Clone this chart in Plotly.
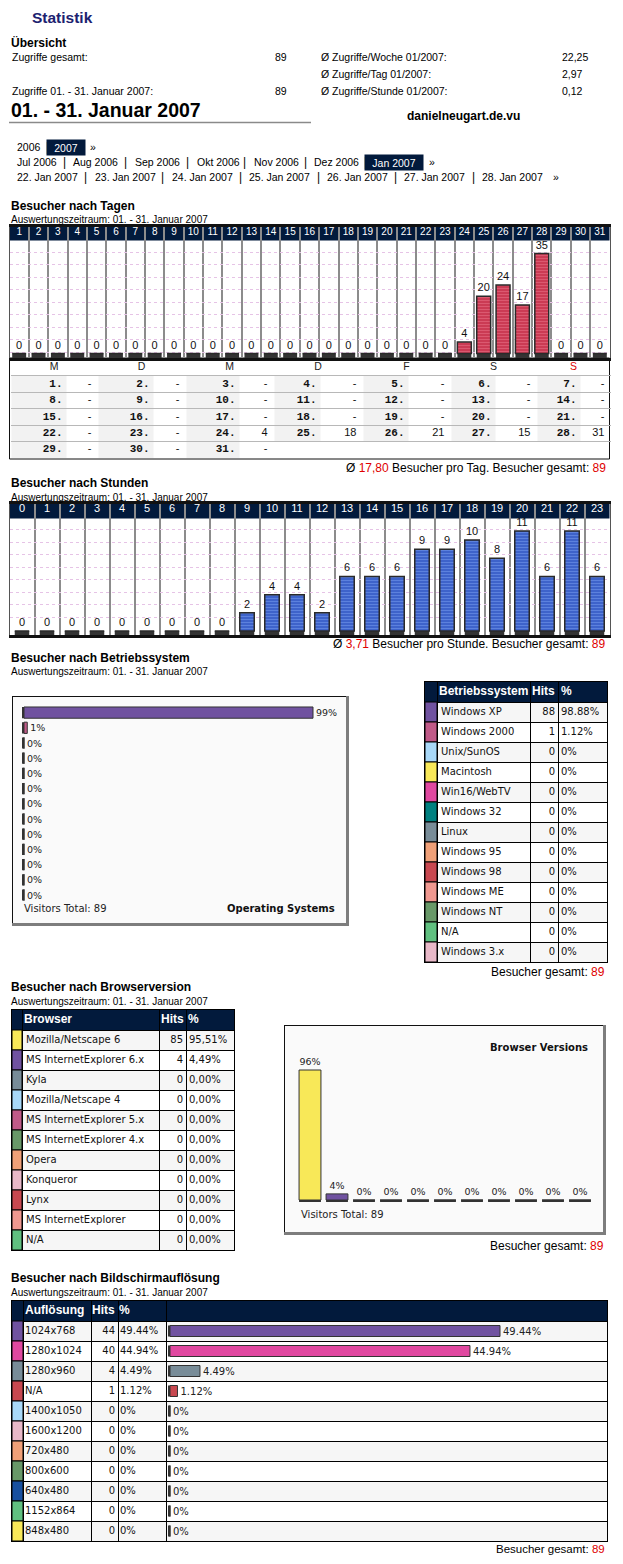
import plotly.graph_objects as go

# ---------- page geometry (the page body keeps its default 8px margin) ----------
OFF = 8
PAGE_W, PAGE_H = 623, 1564
FW, FH = PAGE_W - 2 * OFF, PAGE_H - 2 * OFF


def px(x):
    return (x - OFF) / FW


def py(y):
    return 1 - (y - OFF) / FH


NAVY = '#021a3c'
HILITE = '#e00000'
SANS = 'Liberation Sans, Arial, sans-serif'
VER = 'DejaVu Sans, Verdana, sans-serif'
MONO = 'Liberation Mono, Courier New, monospace'

# ---------------- data ----------------
site_name = 'danielneugart.de.vu'
period_label = '01. - 31. Januar 2007'
period_subtitle = 'Auswertungszeitraum: 01. - 31. Januar 2007'

overview_left_labels = ['Zugriffe gesamt:', 'Zugriffe 01. - 31. Januar 2007:']
overview_left_values = ['89', '89']
overview_right_labels = ['Ø Zugriffe/Woche 01/2007:', 'Ø Zugriffe/Tag 01/2007:', 'Ø Zugriffe/Stunde 01/2007:']
overview_right_values = ['22,25', '2,97', '0,12']

nav_years = ['2006', '2007']
nav_months = ['Jul 2006', 'Aug 2006', 'Sep 2006', 'Okt 2006', 'Nov 2006', 'Dez 2006', 'Jan 2007']
nav_days = ['22. Jan 2007', '23. Jan 2007', '24. Jan 2007', '25. Jan 2007',
            '26. Jan 2007', '27. Jan 2007', '28. Jan 2007']

days = [1, 2, 3, 4, 5, 6, 7, 8, 9, 10, 11, 12, 13, 14, 15, 16, 17, 18, 19, 20,
        21, 22, 23, 24, 25, 26, 27, 28, 29, 30, 31]
visitors_per_day = [0, 0, 0, 0, 0, 0, 0, 0, 0, 0, 0, 0, 0, 0, 0, 0, 0, 0, 0, 0,
                    0, 0, 0, 4, 20, 24, 17, 35, 0, 0, 0]
weekday_letters = ['M', 'D', 'M', 'D', 'F', 'S', 'S']
calendar_values = [None, None, None, None, None, None, None, None, None, None,
                   None, None, None, None, None, None, None, None, None, None,
                   None, None, None, 4, 18, 21, 15, 31, None, None, None]
day_average = '17,80'
total_visitors = '89'

hours = [0, 1, 2, 3, 4, 5, 6, 7, 8, 9, 10, 11, 12, 13, 14, 15, 16, 17, 18, 19, 20, 21, 22, 23]
visitors_per_hour = [0, 0, 0, 0, 0, 0, 0, 0, 0, 2, 4, 4, 2, 6, 6, 6, 9, 9, 10, 8, 11, 6, 11, 6]
hour_average = '3,71'

os_names = ['Windows XP', 'Windows 2000', 'Unix/SunOS', 'Macintosh', 'Win16/WebTV', 'Windows 32',
            'Linux', 'Windows 95', 'Windows 98', 'Windows ME', 'Windows NT', 'N/A', 'Windows 3.x']
os_hits = [88, 1, 0, 0, 0, 0, 0, 0, 0, 0, 0, 0, 0]
os_pct = [98.88, 1.12, 0, 0, 0, 0, 0, 0, 0, 0, 0, 0, 0]
os_colors = ['#7052a0', '#c05a88', '#a8d8f8', '#f8e858', '#e048a0', '#008080', '#788c98',
             '#f0a078', '#c84850', '#f09890', '#689868', '#60c080', '#e8b8c8']

browser_names = ['Mozilla/Netscape 6', 'MS InternetExplorer 6.x', 'Kyla', 'Mozilla/Netscape 4',
                 'MS InternetExplorer 5.x', 'MS InternetExplorer 4.x', 'Opera', 'Konqueror',
                 'Lynx', 'MS InternetExplorer', 'N/A']
browser_hits = [85, 4, 0, 0, 0, 0, 0, 0, 0, 0, 0]
browser_pct = [95.51, 4.49, 0, 0, 0, 0, 0, 0, 0, 0, 0]
browser_colors = ['#f8e858', '#7052a0', '#788c98', '#a8d8f8', '#c05a88', '#689868',
                  '#f0a078', '#e8b8c8', '#c84850', '#f09890', '#60c080']

res_names = ['1024x768', '1280x1024', '1280x960', 'N/A', '1400x1050', '1600x1200',
             '720x480', '800x600', '640x480', '1152x864', '848x480']
res_hits = [44, 40, 4, 1, 0, 0, 0, 0, 0, 0, 0]
res_pct = [49.44, 44.94, 4.49, 1.12, 0, 0, 0, 0, 0, 0, 0]
res_colors = ['#7052a0', '#e048a0', '#788c98', '#c84850', '#a8d8f8', '#e8b8c8',
              '#f0a078', '#689868', '#1850a0', '#60c080', '#f8e858']

# ---------------- helpers ----------------
fig = go.Figure()
ann = []
shapes = []
layout_axes = {}


def text(x, y, s, size=10.5, family=SANS, color='#000', anchor='left', bold=False, **kw):
    if bold:
        s = '<b>' + s + '</b>'
    ann.append(dict(x=px(x), y=py(y), xref='paper', yref='paper', text=s, showarrow=False,
                    xanchor=anchor, yanchor='middle', borderpad=1,
                    font=dict(size=size, family=family, color=color), **kw))


def rect(x0, y0, x1, y1, fill=None, line=None, lw=0, layer='below'):
    shapes.append(dict(type='rect', xref='paper', yref='paper', x0=px(x0), x1=px(x1),
                       y0=py(y0), y1=py(y1), fillcolor=fill or 'rgba(0,0,0,0)',
                       line=dict(color=line or 'rgba(0,0,0,0)', width=lw), layer=layer))


def seg(x0, y0, x1, y1, color, lw, layer='below'):
    shapes.append(dict(type='line', xref='paper', yref='paper', x0=px(x0), x1=px(x1),
                       y0=py(y0), y1=py(y1), line=dict(color=color, width=lw), layer=layer))


def red(s):
    return '<span style="color:%s">%s</span>' % (HILITE, s)


def section_title(y, title):
    text(9, y, title, size=12, bold=True)
    text(9, y + 14, period_subtitle, size=10)


def pct_de(p):
    return ('%.2f' % p).replace('.', ',') + '%'


def pct_en(p):
    return ('%.2f%%' % p) if p else '0%'


def axis(domain, rng, **kw):
    d = dict(domain=domain, range=rng, showgrid=False, zeroline=False, showticklabels=False,
             ticks='', showline=False, fixedrange=True)
    d.update(kw)
    return d


def stripes(vals, base_col, stripe_col):
    return dict(shape=['-' if v else '' for v in vals], fgcolor=stripe_col, bgcolor=base_col,
                size=3, solidity=0.4)


def alt_fill_shapes(xr, yr, n):
    for i in range(0, n, 2):
        shapes.append(dict(type='rect', xref=xr + ' domain', yref=yr, x0=0, x1=1, y0=i - 0.5, y1=i + 0.5,
                           fillcolor='#f6f6f6', line=dict(width=0), layer='below'))


axis_counter = [5]


def table_axes(x0, x1, y_top, row_h, n_rows, bounds, gridcolor='#000', vgrid=True, hvals=None,
               outline='#000'):
    axis_counter[0] += 1
    k = axis_counter[0]
    xr, yr = 'x%d' % k, 'y%d' % k
    layout_axes['xaxis%d' % k] = axis([px(x0), px(x1)], [0, x1 - x0], tickmode='array',
                                      tickvals=bounds if vgrid else [], showgrid=vgrid,
                                      gridcolor=gridcolor, gridwidth=1,
                                      showline=outline is not None, linecolor=outline or '#000',
                                      linewidth=1, mirror=True, anchor=yr)
    layout_axes['yaxis%d' % k] = axis([py(y_top + (n_rows + 1) * row_h), py(y_top)],
                                      [n_rows - 0.5, -1.5], tickmode='array',
                                      tickvals=hvals if hvals is not None else [i - 0.5 for i in range(n_rows)],
                                      showgrid=True, gridcolor=gridcolor, gridwidth=1,
                                      showline=outline is not None, linecolor=outline or '#000',
                                      linewidth=1, mirror=True, anchor=xr)
    return xr, yr


def text_col(xr, yr, x, ys, texts, pos, family=VER, size=10, color='#111'):
    fig.add_trace(go.Scatter(x=[x] * len(ys), y=ys, text=texts, mode='text', textposition=pos,
                             textfont=dict(family=family, size=size, color=color), cliponaxis=False,
                             hoverinfo='skip', xaxis=xr, yaxis=yr))


def data_table(x0, x1, y_top, names, hits, pct_txt, colors, bounds, head, head_x, name_x, hits_x, pct_x):
    n = len(names)
    xr, yr = table_axes(x0, x1, y_top, 20, n, bounds)
    alt_fill_shapes(xr, yr, n)
    shapes.append(dict(type='rect', xref=xr + ' domain', yref=yr, x0=0, x1=1, y0=-1.5, y1=-0.5,
                       fillcolor=NAVY, line=dict(width=0), layer='below'))
    rows = list(range(n))
    fig.add_trace(go.Bar(y=rows, x=[bounds[1]] * n, base=0, orientation='h', width=1,
                         marker=dict(color=colors, line=dict(color='#000', width=1)),
                         hoverinfo='skip', xaxis=xr, yaxis=yr))
    fig.add_trace(go.Scatter(x=head_x, y=[-1] * len(head), text=['<b>%s</b>' % h for h in head],
                             mode='text', textposition='middle right',
                             textfont=dict(family=SANS, size=12, color='white'), cliponaxis=False,
                             hoverinfo='skip', xaxis=xr, yaxis=yr))
    text_col(xr, yr, name_x, rows, names, 'middle right')
    text_col(xr, yr, hits_x, rows, [str(h) for h in hits], 'middle left')
    text_col(xr, yr, pct_x, rows, pct_txt, 'middle right')
    return xr, yr


# ---------------- header ----------------
text(30, 17.5, 'Statistik', size=15.5, bold=True, color='#1c2270')
text(9, 42, 'Übersicht', size=12, bold=True)
for lbl, val, yy in zip(overview_left_labels, overview_left_values, [57, 91]):
    text(10, yy, lbl)
    text(289, yy, val, anchor='right')
for lbl, val, yy in zip(overview_right_labels, overview_right_values, [57, 74, 91]):
    text(319, yy, lbl)
    text(560, yy, val)
text(9, 110, period_label, size=19.5, bold=True)
seg(9, 122.5, 311, 122.5, '#8a8a8a', 1.5)
text(405, 116, site_name, size=12, bold=True)

NAVF = 10.5
text(15, 147, nav_years[0], size=NAVF)
text(47, 147, '|', size=12, anchor='center')
text(66, 147, nav_years[1], size=NAVF, anchor='center', color='white', bgcolor=NAVY, width=36, height=13)
text(93, 147, '»', size=NAVF, anchor='center')

month_x = [15, 71, 133, 195, 252, 312]
month_pipes = [64, 125, 187, 244, 305, 365]
for m, xx in zip(nav_months[:-1], month_x):
    text(xx, 162, m, size=NAVF)
for xx in month_pipes:
    text(xx, 162, '|', size=12, anchor='center')
text(394, 162, nav_months[-1], size=NAVF, anchor='center', color='white', bgcolor=NAVY, width=56, height=13)
text(432, 162, '»', size=NAVF, anchor='center')

day_x = [15, 93, 170, 247, 325, 402, 480]
day_pipes = [85, 162, 240, 318, 395, 473]
for d, xx in zip(nav_days, day_x):
    text(xx, 177, d, size=NAVF)
for xx in day_pipes:
    text(xx, 177, '|', size=12, anchor='center')
text(556, 177, '»', size=NAVF, anchor='center')

# ---------------- Besucher nach Tagen ----------------
section_title(206, 'Besucher nach Tagen')
D_TOP, D_HEAD, D_BASE, D_BOT = 227, 240.5, 353.5, 358
d_scale = 100 / max(visitors_per_day)
d_stub = (D_BOT - D_BASE) / d_scale
d_grid = [((D_BASE - 352) + 12.5 * k) / d_scale for k in range(9)]
layout_axes['xaxis'] = axis([px(9.5), px(609.5)], [0.5, 31.5], side='top', showticklabels=True,
                            tickmode='array', tickvals=days, ticktext=[str(d) for d in days],
                            ticklabelposition='inside',
                            tickfont=dict(family=SANS, size=10, color='white'),
                            minor=dict(tick0=0.5, dtick=1, showgrid=True, gridcolor='#8c8c8c', gridwidth=2),
                            showline=True, linecolor='#111', linewidth=2.5, mirror=True, anchor='y')
layout_axes['yaxis'] = axis([py(D_BOT), py(D_TOP)], [-d_stub, (D_BASE - D_TOP) / d_scale],
                            tickmode='array', tickvals=d_grid, showgrid=True, gridcolor='#e6c3e6',
                            griddash='dot', gridwidth=1, showline=True, linecolor='#555',
                            linewidth=1, mirror=True, anchor='x')
shapes.append(dict(type='rect', xref='x domain', yref='paper', x0=0, x1=1, y0=py(D_HEAD), y1=py(D_TOP),
                   fillcolor=NAVY, line=dict(width=0), layer='below'))
fig.add_trace(go.Bar(x=days, y=[d_stub] * len(days), base=-d_stub, width=0.72,
                     marker=dict(color='#333333', line=dict(width=0)),
                     text=[str(v) if v == 0 else '' for v in visitors_per_day], textposition='outside',
                     textfont=dict(family=SANS, size=11, color='#111'), constraintext='none',
                     cliponaxis=False, hoverinfo='skip', xaxis='x', yaxis='y'))
fig.add_trace(go.Bar(x=days, y=visitors_per_day, width=0.72,
                     marker=dict(color='#cd3c52', line=dict(color='#2a2a2a', width=1.5),
                                 pattern=stripes(visitors_per_day, '#c93850', '#ee7a90')),
                     text=[str(v) if v else '' for v in visitors_per_day], textposition='outside',
                     textfont=dict(family=SANS, size=11, color='#111'), constraintext='none',
                     cliponaxis=False, hoverinfo='skip', xaxis='x', yaxis='y'))

# ---- calendar below the day chart ----
rect(9.5, 358, 609.5, 459, line='#111', lw=1)
cell_w = [57, 30, 57, 31, 55, 33, 48, 41, 47, 41, 46, 40, 45, 29]
cell_b = [0]
for w in cell_w:
    cell_b.append(cell_b[-1] + w)
cxr, cyr = table_axes(10.5, 10.5 + cell_b[-1], 359.5, 16.4, 5, [], gridcolor='#b8b8b8', vgrid=False,
                      hvals=[-0.5, 0.5, 1.5, 2.5, 3.5], outline=None)
date_x, date_y, date_t, val_x, val_y, val_t = [], [], [], [], [], []
for g in range(7):
    d0, d1, v1 = cell_b[2 * g], cell_b[2 * g + 1], cell_b[2 * g + 2]
    for r in range(5):
        d = r * 7 + g + 1
        if d > len(calendar_values):
            continue
        v = calendar_values[d - 1]
        shapes.append(dict(type='rect', xref=cxr, yref=cyr, x0=d0 + 1, x1=d1 - 1, y0=r - 0.5, y1=r + 0.5,
                           fillcolor='#f2f2f2', line=dict(width=0), layer='below'))
        date_x.append(d1 - 5)
        date_y.append(r)
        date_t.append('<b>%d.</b>' % d)
        val_x.append(v1 - 6)
        val_y.append(r)
        val_t.append('-' if v is None else str(v))
fig.add_trace(go.Scatter(x=date_x, y=date_y, text=date_t, mode='text', textposition='middle left',
                         textfont=dict(family=MONO, size=11, color='#111'), cliponaxis=False,
                         hoverinfo='skip', xaxis=cxr, yaxis=cyr))
fig.add_trace(go.Scatter(x=val_x, y=val_y, text=val_t, mode='text', textposition='middle left',
                         textfont=dict(family=SANS, size=11, color='#111'), cliponaxis=False,
                         hoverinfo='skip', xaxis=cxr, yaxis=cyr))
fig.add_trace(go.Scatter(x=[(cell_b[2 * g] + cell_b[2 * g + 2]) / 2 for g in range(7)], y=[-1] * 7,
                         text=weekday_letters, mode='text', textposition='middle center',
                         textfont=dict(family=SANS, size=10.5, color=['#222'] * 6 + [HILITE]),
                         cliponaxis=False, hoverinfo='skip', xaxis=cxr, yaxis=cyr))
text(608, 468, 'Ø ' + red(day_average) + ' Besucher pro Tag. Besucher gesamt: ' + red(total_visitors),
     size=12, anchor='right')

# ---------------- Besucher nach Stunden ----------------
section_title(483, 'Besucher nach Stunden')
H_TOP, H_HEAD, H_BASE, H_BOT = 504, 518.5, 631, 635
h_scale = 100 / max(visitors_per_hour)
h_stub = (H_BOT - H_BASE) / h_scale
h_grid = [((H_BASE - 617) + 12.5 * k) / h_scale for k in range(8)]
layout_axes['xaxis2'] = axis([px(9.5), px(609.5)], [-0.5, 23.5], side='top', showticklabels=True,
                             tickmode='array', tickvals=hours, ticktext=[str(h) for h in hours],
                             ticklabelposition='inside',
                             tickfont=dict(family=SANS, size=11, color='white'),
                             minor=dict(tick0=-0.5, dtick=1, showgrid=True, gridcolor='#8c8c8c', gridwidth=2),
                             showline=True, linecolor='#111', linewidth=2.5, mirror=True, anchor='y2')
layout_axes['yaxis2'] = axis([py(H_BOT), py(H_TOP)], [-h_stub, (H_BASE - H_TOP) / h_scale],
                             tickmode='array', tickvals=h_grid, showgrid=True, gridcolor='#e6c3e6',
                             griddash='dot', gridwidth=1, showline=True, linecolor='#555',
                             linewidth=1, mirror=True, anchor='x2')
shapes.append(dict(type='rect', xref='x2 domain', yref='paper', x0=0, x1=1, y0=py(H_HEAD), y1=py(H_TOP),
                   fillcolor=NAVY, line=dict(width=0), layer='below'))
fig.add_trace(go.Bar(x=hours, y=[h_stub] * len(hours), base=-h_stub, width=0.58,
                     marker=dict(color='#333333', line=dict(width=0)),
                     text=[str(v) if v == 0 else '' for v in visitors_per_hour], textposition='outside',
                     textfont=dict(family=SANS, size=11, color='#111'), constraintext='none',
                     cliponaxis=False, hoverinfo='skip', xaxis='x2', yaxis='y2'))
fig.add_trace(go.Bar(x=hours, y=visitors_per_hour, width=0.58,
                     marker=dict(color='#3b62cc', line=dict(color='#2a2a2a', width=1.5),
                                 pattern=stripes(visitors_per_hour, '#3a5fc8', '#7ea4f2')),
                     text=[str(v) if v else '' for v in visitors_per_hour], textposition='outside',
                     textfont=dict(family=SANS, size=11, color='#111'), constraintext='none',
                     cliponaxis=False, hoverinfo='skip', xaxis='x2', yaxis='y2'))
text(608, 644, 'Ø ' + red(hour_average) + ' Besucher pro Stunde. Besucher gesamt: ' + red(total_visitors),
     size=12, anchor='right')

# ---------------- Besucher nach Betriebssystem ----------------
section_title(658, 'Besucher nach Betriebssystem')
rect(12, 696, 349, 926, fill='#fafafa')
seg(12, 696.5, 349, 696.5, '#111', 1)
seg(12.5, 696, 12.5, 926, '#111', 1)
seg(347.5, 696, 347.5, 926, '#7d7d7d', 3)
seg(12, 924.5, 349, 924.5, '#7d7d7d', 3)
o_scale = (313 - 24) / max(os_pct)
o_stub = 2 / o_scale
os_idx = list(range(len(os_names)))
layout_axes['xaxis3'] = axis([px(22), px(349)], [-o_stub, (349 - 24) / o_scale], anchor='y3')
layout_axes['yaxis3'] = axis([py(902.6), py(705)], [len(os_names) - 0.5, -0.5], anchor='x3')
fig.add_trace(go.Bar(y=os_idx, x=[o_stub] * len(os_idx), base=-o_stub, orientation='h', width=0.74,
                     marker=dict(color='#333333', line=dict(width=0)),
                     text=['%d%%' % round(p) if p == 0 else '' for p in os_pct], textposition='outside',
                     textfont=dict(family=VER, size=9.5, color='#222'), constraintext='none',
                     cliponaxis=False, hoverinfo='skip', xaxis='x3', yaxis='y3'))
fig.add_trace(go.Bar(y=os_idx, x=os_pct, orientation='h', width=0.74,
                     marker=dict(color=os_colors, line=dict(color='#333', width=1)),
                     text=['%d%%' % round(p) if p else '' for p in os_pct], textposition='outside',
                     textfont=dict(family=VER, size=9.5, color='#222'), constraintext='none',
                     cliponaxis=False, hoverinfo='skip', xaxis='x3', yaxis='y3'))
text(22, 908, 'Visitors Total: ' + total_visitors, size=10, family=VER, color='#222')
text(337, 908, 'Operating Systems', size=10, family=VER, bold=True, anchor='right', color='#111')

data_table(425, 607, 682, os_names, os_hits, [pct_en(p) for p in os_pct], os_colors,
           [0, 12, 105, 133, 182], ['Betriebssystem', 'Hits', '%'], [14, 107, 136],
           16, 130, 136)
text(607, 972, 'Besucher gesamt: ' + red(total_visitors), size=12, anchor='right')

# ---------------- Besucher nach Browserversion ----------------
section_title(987, 'Besucher nach Browserversion')
data_table(12, 234, 1010, browser_names, browser_hits, [pct_de(p) for p in browser_pct], browser_colors,
           [0, 10, 147, 174, 222], ['Browser', 'Hits', '%'], [12, 149, 176],
           14, 171, 177)

rect(284, 1025, 606, 1235, fill='#fafafa')
seg(284, 1025.5, 606, 1025.5, '#111', 1)
seg(284.5, 1025, 284.5, 1235, '#111', 1)
seg(604.5, 1025, 604.5, 1235, '#7d7d7d', 3)
seg(284, 1233.5, 606, 1233.5, '#7d7d7d', 3)
n_br = len(browser_names)
b_scale = (1200 - 1070) / max(browser_pct)
b_stub = 2 / b_scale
br_idx = list(range(n_br))
layout_axes['xaxis4'] = axis([px(296.5), px(593.5)], [-0.5, n_br - 0.5], anchor='y4')
layout_axes['yaxis4'] = axis([py(1202), py(1055)], [-b_stub, (1200 - 1055) / b_scale], anchor='x4')
fig.add_trace(go.Bar(x=br_idx, y=[b_stub] * n_br, base=-b_stub, width=0.81,
                     marker=dict(color='#333333', line=dict(width=0)),
                     text=['%d%%' % round(p) if p == 0 else '' for p in browser_pct], textposition='outside',
                     textfont=dict(family=VER, size=9.5, color='#222'), constraintext='none',
                     cliponaxis=False, hoverinfo='skip', xaxis='x4', yaxis='y4'))
fig.add_trace(go.Bar(x=br_idx, y=browser_pct, width=0.81,
                     marker=dict(color=browser_colors, line=dict(color='#333', width=1)),
                     text=['%d%%' % round(p) if p else '' for p in browser_pct], textposition='outside',
                     textfont=dict(family=VER, size=9.5, color='#222'), constraintext='none',
                     cliponaxis=False, hoverinfo='skip', xaxis='x4', yaxis='y4'))
text(590, 1047, 'Browser Versions', size=10, family=VER, bold=True, anchor='right', color='#111')
text(299, 1214, 'Visitors Total: ' + total_visitors, size=10, family=VER, color='#222')
text(606, 1246, 'Besucher gesamt: ' + red(total_visitors), size=12, anchor='right')

# ---------------- Besucher nach Bildschirmauflösung ----------------
section_title(1278, 'Besucher nach Bildschirmauflösung')
n_res = len(res_names)
r_scale = (500 - 170) / max(res_pct)
r_stub = 1.7 / r_scale
res_idx = list(range(n_res))
data_table(12, 607, 1301, res_names, res_hits, [pct_en(p) for p in res_pct], res_colors,
           [0, 11, 79, 106, 154, 595], ['Auflösung', 'Hits', '%'], [13, 80, 107],
           13, 103, 108)
layout_axes['xaxis5'] = axis([px(166), px(607)], [-4 / r_scale, (607 - 170) / r_scale], anchor='y5')
layout_axes['yaxis5'] = axis([py(1541), py(1321)], [n_res - 0.5, -0.5], anchor='x5')
fig.add_trace(go.Bar(y=res_idx, x=[r_stub] * n_res, base=-r_stub, orientation='h', width=0.55,
                     marker=dict(color='#333333', line=dict(width=0)),
                     text=[pct_en(p) if p == 0 else '' for p in res_pct], textposition='outside',
                     textfont=dict(family=VER, size=10, color='#222'), constraintext='none',
                     cliponaxis=False, hoverinfo='skip', xaxis='x5', yaxis='y5'))
fig.add_trace(go.Bar(y=res_idx, x=res_pct, orientation='h', width=0.55,
                     marker=dict(color=res_colors, line=dict(color='#333', width=1)),
                     text=[pct_en(p) if p else '' for p in res_pct], textposition='outside',
                     textfont=dict(family=VER, size=10, color='#222'), constraintext='none',
                     cliponaxis=False, hoverinfo='skip', xaxis='x5', yaxis='y5'))
text(607, 1548.5, 'Besucher gesamt: ' + red(total_visitors), size=11.5, anchor='right')

fig.update_layout(width=FW, height=FH, margin=dict(l=0, r=0, t=0, b=0), autosize=False,
                  paper_bgcolor='white', plot_bgcolor='rgba(0,0,0,0)', showlegend=False,
                  barmode='overlay', annotations=ann, shapes=shapes, **layout_axes)
fig.write_html("out.html", config={'displayModeBar': False})
